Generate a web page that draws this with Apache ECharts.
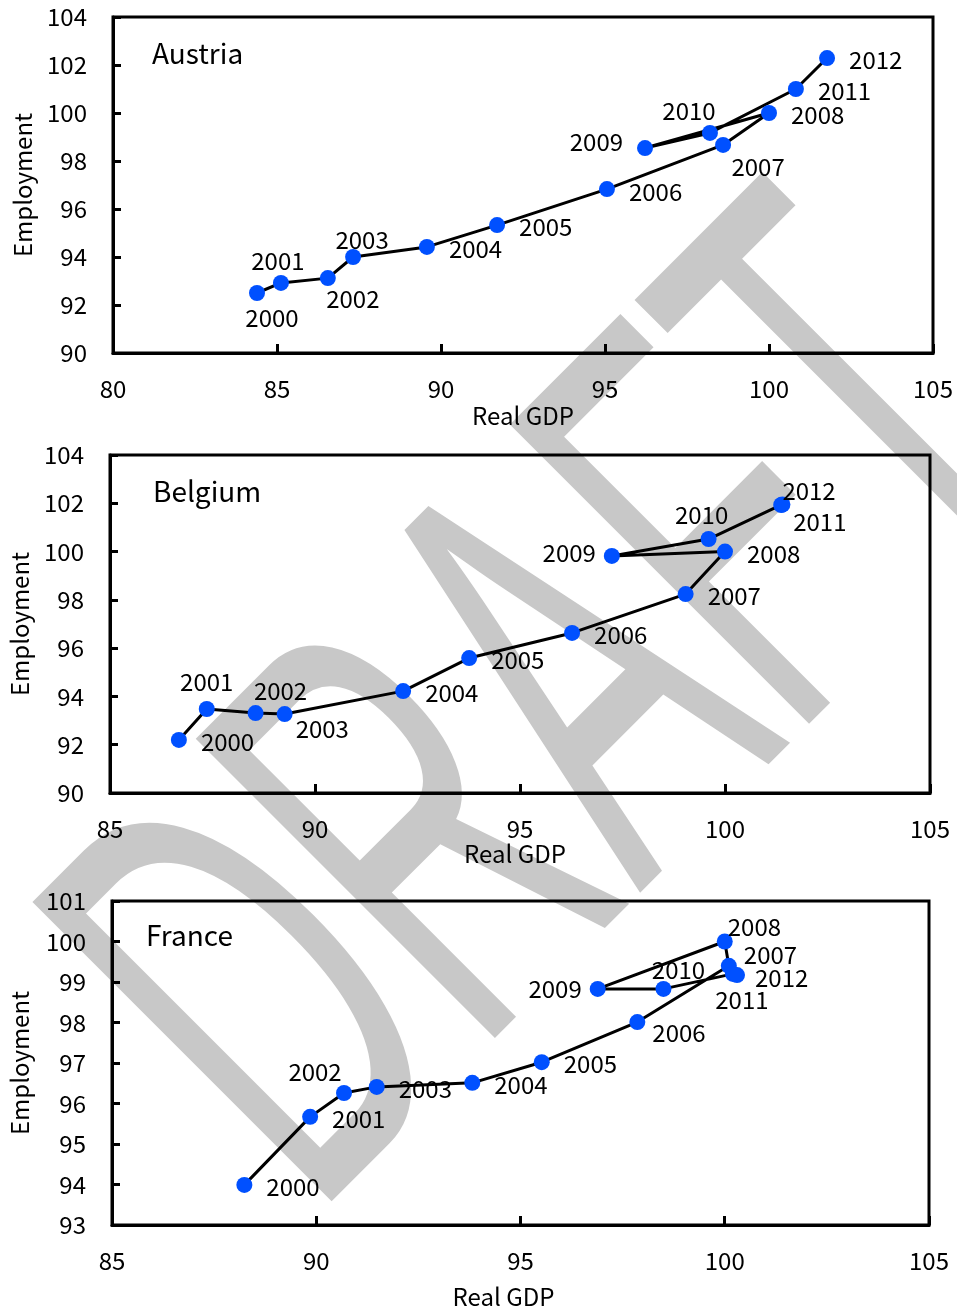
<!DOCTYPE html>
<html>
<head>
<meta charset="utf-8">
<script src="https://cdn.jsdelivr.net/npm/echarts@6/dist/echarts.min.js"></script>
<style>
html,body{margin:0;padding:0;background:#fff;}
#chart{width:957px;height:1312px;}
</style>
</head>
<body>
<div id="chart"></div>
<script>
const years = ['2000','2001','2002','2003','2004','2005','2006','2007','2008','2009','2010','2011','2012'];
const countries = ['Austria','Belgium','France'];

const austriaGDP = [84.39, 85.12, 86.55, 87.32, 89.57, 91.71, 95.06, 98.60, 100.0, 96.22, 98.20, 100.82, 101.77];
const austriaEmp = [92.50, 92.92, 93.12, 94.00, 94.42, 95.33, 96.83, 98.67, 100.0, 98.54, 99.17, 101.00, 102.29];

const belgiumGDP = [86.68, 87.36, 88.55, 89.26, 92.15, 93.76, 96.27, 99.04, 100.0, 97.24, 99.60, 101.37, 101.40];
const belgiumEmp = [92.20, 93.48, 93.31, 93.27, 94.22, 95.59, 96.63, 98.24, 100.0, 99.82, 100.52, 101.93, 101.95];

const franceGDP = [88.24, 89.85, 90.68, 91.48, 93.82, 95.52, 97.86, 100.10, 100.0, 96.89, 98.50, 100.20, 100.30];
const franceEmp = [93.99, 95.67, 96.26, 96.41, 96.51, 97.02, 98.01, 99.40, 100.0, 98.83, 98.83, 99.20, 99.17];

const xTicksAustria = [80, 105, 5];
const yTicksAustria = [90, 104, 2];
const xTicksBelgium = [85, 105, 5];
const yTicksBelgium = [90, 104, 2];
const xTicksFrance = [85, 105, 5];
const yTicksFrance = [93, 101, 1];

// label placement (style only)
const labelPlace = {
  Austria: [['bottom',15,0],['top',-3,3],['bottom',25,-4],['top',9,8],['right',0,2],['right',0,2],['right',0,3],['bottom',35,-3],['right',0,2],['left',0,-6],['top',-21,3],['right',0,2],['right',0,2]],
  Belgium: [['right',0,2],['top',0,-2],['top',25,3],['right',-11,15],['right',0,2],['right',0,2],['right',0,2],['right',0,2],['right',0,2],['left',6,-3],['top',-7,1],['right',-10,17],['right',-22,-14]],
  France: [['right',0,2],['right',0,2],['top',-29,4],['right',0,2],['right',0,2],['right',0,2],['right',-7,11],['right',-7,-11],['right',-19,-15],['left',6,0],['top',15,6],['bottom',9,1],['right',-4,3]]
};

const FONT = '"Noto Sans CJK TC", "Noto Sans", sans-serif';
const gridBoxes = [
  {left:113, top:17, width:820, height:336},
  {left:108, top:455, width:822, height:338},
  {left:107, top:901, width:822, height:324}
];
const nameGaps = [51, 45, 60];
const namePads = [[0,0,0,0],[0,10,0,0],[0,34,0,0]];
const yNameGaps = [78, 78, 80];
const titlePos = [[152,53],[153,491],[146,935]];

const dataSets = [
  [austriaGDP, austriaEmp, xTicksAustria, yTicksAustria],
  [belgiumGDP, belgiumEmp, xTicksBelgium, yTicksBelgium],
  [franceGDP, franceEmp, xTicksFrance, yTicksFrance]
];

const chart = echarts.init(document.getElementById('chart'), null, {renderer:'canvas'});

const grids = [], xAxes = [], yAxes = [], series = [], graphics = [];

graphics.push({
  type:'text', z:-10,
  x:570, y:723, rotation: Math.PI/4, scaleX:0.52, scaleY:1,
  style:{text:'DRAFT', fill:'#c8c8c8', font:'615px "Liberation Sans", Arial, sans-serif', textAlign:'center', textVerticalAlign:'middle'}
});

dataSets.forEach((ds, i) => {
  const [gx, gy, xt, yt] = ds;
  grids.push(Object.assign({show:true, borderColor:'#000', borderWidth:3, backgroundColor:'transparent', z:5}, gridBoxes[i]));
  xAxes.push({
    type:'value', gridIndex:i, min:xt[0], max:xt[1], interval:xt[2],
    name:'Real GDP', nameLocation:'middle', nameGap:nameGaps[i],
    nameTextStyle:{color:'#000', fontSize:24, fontFamily:FONT, padding:namePads[i]},
    axisLine:{show:true, onZero:false, lineStyle:{color:'#000', width:3}},
    axisTick:{show:true, inside:true, length:9, lineStyle:{color:'#000', width:3}},
    axisLabel:{color:'#000', fontSize:24, fontFamily:FONT, margin:24},
    splitLine:{show:false}
  });
  yAxes.push({
    type:'value', gridIndex:i, min:yt[0], max:yt[1], interval:yt[2],
    name:'Employment', nameLocation:'middle', nameGap:yNameGaps[i], nameRotate:90,
    nameTextStyle:{color:'#000', fontSize:24, fontFamily:FONT},
    axisLine:{show:true, onZero:false, lineStyle:{color:'#000', width:3}},
    axisTick:{show:true, inside:true, length:8, lineStyle:{color:'#000', width:3}},
    axisLabel:{color:'#000', fontSize:24, fontFamily:FONT, margin:26},
    splitLine:{show:false}
  });
  const place = labelPlace[countries[i]];
  series.push({
    type:'line', xAxisIndex:i, yAxisIndex:i, z:10,
    symbol:'circle', symbolSize:16,
    lineStyle:{color:'#000', width:3},
    itemStyle:{color:'#0050ff'},
    label:{show:true, color:'#000', fontSize:24, fontFamily:FONT},
    data: gx.map((x, k) => ({
      value:[x, gy[k]], name:years[k],
      label:{
        position:place[k][0],
        distance:(place[k][0] === 'left' || place[k][0] === 'right') ? 14 : 5,
        offset:[place[k][1], place[k][2]], formatter: years[k]
      }
    })),
    animation:false
  });
  graphics.push({
    type:'text', z:20, x:titlePos[i][0], y:titlePos[i][1],
    style:{text:countries[i], fill:'#000', font:'28px ' + FONT, textAlign:'left', textVerticalAlign:'middle'}
  });
});

chart.setOption({
  backgroundColor:'#fff',
  animation:false,
  grid:grids, xAxis:xAxes, yAxis:yAxes, series:series, graphic:graphics
});
</script>
</body>
</html>
